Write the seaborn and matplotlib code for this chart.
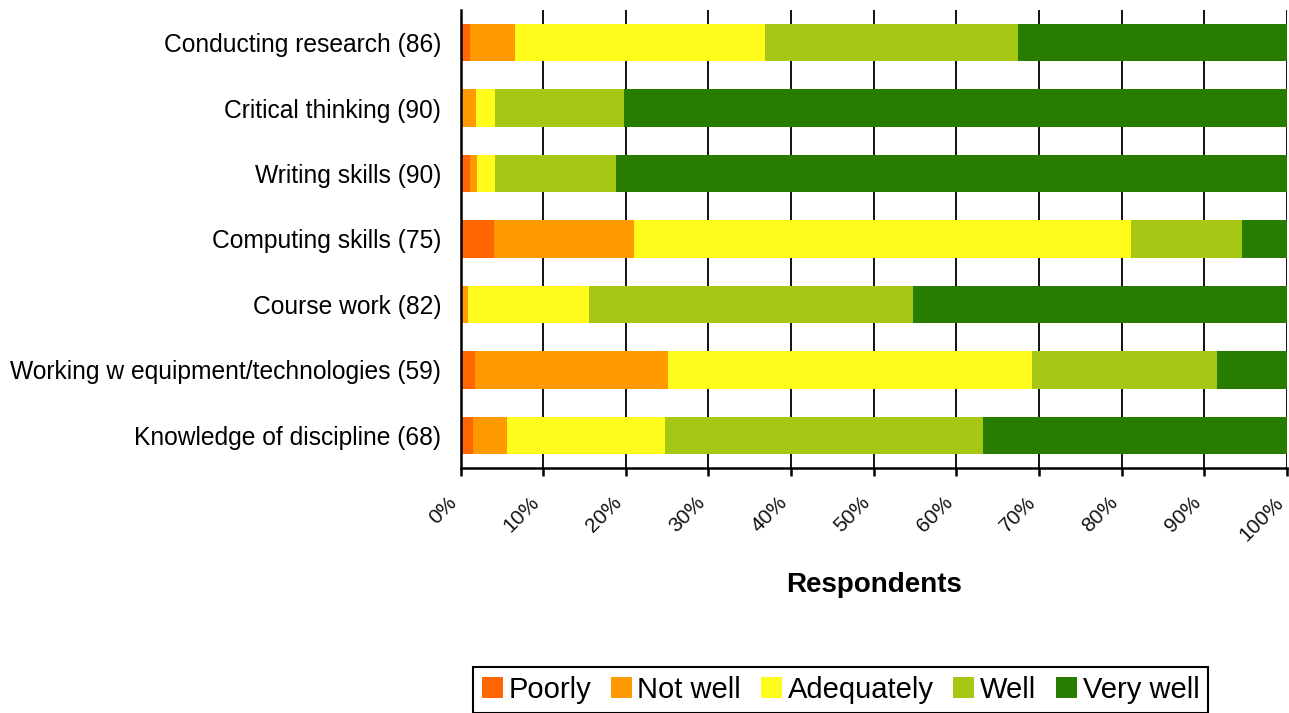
import matplotlib.pyplot as plt
import matplotlib.transforms as mtransforms
import pandas as pd
import seaborn as sns
from matplotlib.patches import Patch
from matplotlib.ticker import FixedLocator

# Data (percent of respondents)
categories = ['Conducting research (86)', 'Critical thinking (90)', 'Writing skills (90)',
              'Computing skills (75)', 'Course work (82)',
              'Working w equipment/technologies (59)', 'Knowledge of discipline (68)']
levels = ['Poorly', 'Not well', 'Adequately', 'Well', 'Very well']
poorly = [1.2, 0.0, 1.1, 4.0, 0.0, 1.7, 1.5]
not_well = [5.4, 1.9, 0.9, 17.0, 0.9, 23.4, 4.1]
adequately = [30.3, 2.3, 2.2, 60.1, 14.6, 44.1, 19.1]
well = [30.5, 15.6, 14.6, 13.5, 39.3, 22.3, 38.5]
very_well = [32.6, 80.2, 81.2, 5.4, 45.2, 8.5, 36.8]
colors = ['#FF6600', '#FF9900', '#FFFB1C', '#A6C815', '#287D00']
x_ticks = list(range(0, 101, 10))
x_ticklabels = [f'{v}%' for v in x_ticks]

sns.set_style('white')
plt.rcParams['font.family'] = ['Liberation Sans', 'DejaVu Sans']
plt.rcParams['text.color'] = 'black'
plt.rcParams['axes.labelcolor'] = 'black'
plt.rcParams['xtick.color'] = 'black'
plt.rcParams['ytick.color'] = 'black'

df = pd.DataFrame({'skill': categories, 'Poorly': poorly, 'Not well': not_well,
                   'Adequately': adequately, 'Well': well, 'Very well': very_well})
cum = df[levels].cumsum(axis=1)

fig = plt.figure(figsize=(12.89, 7.13), dpi=100)
ax = fig.add_axes([0.3573, 0.3436, 0.6411, 0.6424])

# stacked bars: draw the longest (cumulative) first, then overlay
for level, color in zip(reversed(levels), reversed(colors)):
    sns.barplot(x=cum[level], y=df['skill'], color=color, saturation=1,
                width=0.57, ax=ax, orient='h', edgecolor='none', linewidth=0)

ax.set_xlim(0, 100)
ax.set_ylim(6.5, -0.5)
ax.set_xticks(x_ticks)
ax.set_xticklabels(x_ticklabels, rotation=45, ha='right', va='top',
                   fontsize=15, color='#111111')
offset = mtransforms.ScaledTranslation(-9 / 100, 0, fig.dpi_scale_trans)
for lbl in ax.get_xticklabels():
    lbl.set_transform(lbl.get_transform() + offset)

ax.set_ylabel('')
ax.set_xlabel('Respondents', fontsize=20, fontweight='bold', labelpad=20, color='black')
ax.tick_params(axis='y', which='major', length=0, pad=14, labelsize=17.7)
ax.yaxis.set_minor_locator(FixedLocator([i - 0.5 for i in range(8)]))
ax.tick_params(axis='y', which='minor', length=6.5, width=1.8, direction='out', color='black')
ax.tick_params(axis='x', which='major', length=6, width=1.8, direction='out',
               color='black', pad=12, bottom=True)

ax.set_axisbelow(True)
ax.grid(axis='x', color='black', linewidth=1.3)
ax.grid(axis='y', visible=False)
sns.despine(ax=ax, top=True, right=True)
for side in ['left', 'bottom']:
    ax.spines[side].set_color('black')
    ax.spines[side].set_linewidth(1.8)

handles = [Patch(facecolor=c, edgecolor='none') for c in colors]
leg = fig.legend(handles, levels, loc='upper center', bbox_to_anchor=(0.652, 0.0645),
                 ncol=5, fontsize=21, frameon=True, fancybox=False, edgecolor='black',
                 framealpha=1, handlelength=0.72, handleheight=0.72, handletextpad=0.2,
                 columnspacing=0.67, borderpad=0.3, borderaxespad=0)
leg.get_frame().set_linewidth(1.5)

fig.savefig('out.png', dpi=100)
